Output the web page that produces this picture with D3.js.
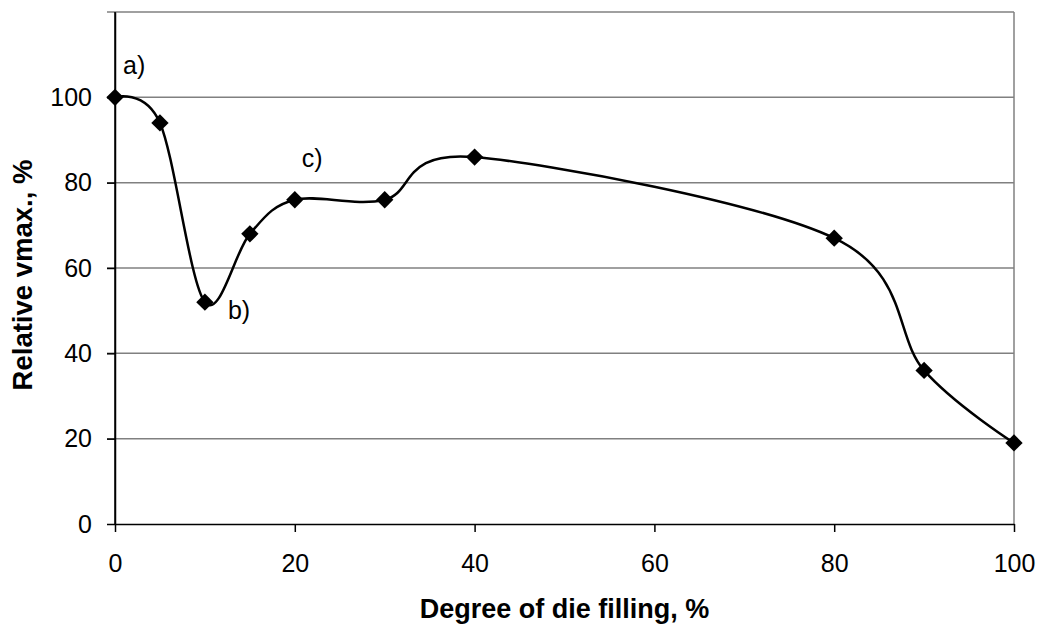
<!DOCTYPE html>
<html>
<head>
<meta charset="utf-8">
<script src="https://cdn.jsdelivr.net/npm/d3@7"></script>
<style>
  body { margin: 0; background: #fff; }
  svg { display: block; font-family: "Liberation Sans", Arial, sans-serif; }
</style>
</head>
<body>
<svg id="chart"></svg>
<script>
// data
const filling = [0, 5, 10, 15, 20, 30, 40, 80, 90, 100];
const relVmax = [100, 94, 52, 68, 76, 76, 86, 67, 36, 19];
const xTicks = [0, 20, 40, 60, 80, 100];
const yTicks = [0, 20, 40, 60, 80, 100, 120];
const yLabels = [0, 20, 40, 60, 80, 100];
const notes = [
  { x: 0, y: 100, text: "a)", dx: 8, dy: -23 },
  { x: 10, y: 52, text: "b)", dx: 23, dy: 17 },
  { x: 20, y: 76, text: "c)", dx: 7, dy: -33 }
];

const width = 1042;
const height = 628;
const marginLeft = 115;
const marginRight = 28;
const marginTop = 12;
const marginBottom = 104;

const svg = d3.select("#chart")
  .attr("width", width)
  .attr("height", height);

const x = d3.scaleLinear()
  .domain([0, 100])
  .range([marginLeft, width - marginRight]);

const y = d3.scaleLinear()
  .domain([0, 120])
  .range([height - marginBottom, marginTop]);

// gridlines (with the little outer ticks on the left)
svg.append("g")
  .selectAll("line")
  .data(yTicks.filter(d => d > 0))
  .join("line")
  .attr("x1", marginLeft - 8)
  .attr("x2", x(100))
  .attr("y1", d => y(d))
  .attr("y2", d => y(d))
  .attr("stroke", "#808080")
  .attr("stroke-width", 1.5);

// right border
svg.append("line")
  .attr("x1", x(100)).attr("x2", x(100))
  .attr("y1", y(120)).attr("y2", y(0))
  .attr("stroke", "#808080")
  .attr("stroke-width", 1.5);

// x axis
const xAxis = svg.append("g")
  .attr("transform", `translate(0,${y(0)})`)
  .call(d3.axisBottom(x).tickValues(xTicks).tickSize(8).tickPadding(22).tickSizeOuter(0));
xAxis.attr("font-family", null);
xAxis.select(".domain").attr("stroke", "#000").attr("stroke-width", 1.5);
xAxis.selectAll(".tick line").attr("stroke", "#000").attr("stroke-width", 1.5);
xAxis.selectAll(".tick text").attr("font-size", 25).attr("fill", "#000");

// y axis
const yAxis = svg.append("g")
  .attr("transform", `translate(${marginLeft},0)`)
  .call(d3.axisLeft(y).tickValues(yLabels).tickSize(8).tickPadding(15).tickSizeOuter(0));
yAxis.attr("font-family", null);
yAxis.select(".domain").attr("stroke", "#000").attr("stroke-width", 1.5);
yAxis.selectAll(".tick line").attr("stroke", "#000").attr("stroke-width", 1.5);
yAxis.selectAll(".tick text").attr("font-size", 25).attr("fill", "#000");
// axis line up to the top
yAxis.append("line")
  .attr("x1", 0).attr("x2", 0)
  .attr("y1", y(120)).attr("y2", y(0))
  .attr("stroke", "#000").attr("stroke-width", 1.5);

// axis titles
svg.append("text")
  .attr("x", (x(0) + x(100)) / 2)
  .attr("y", 618)
  .attr("text-anchor", "middle")
  .attr("font-size", 27)
  .attr("font-weight", "bold")
  .text("Degree of die filling, %");

svg.append("text")
  .attr("transform", `translate(32,275) rotate(-90)`)
  .attr("text-anchor", "middle")
  .attr("font-size", 27.5)
  .attr("font-weight", "bold")
  .text("Relative vmax., %");

// smoothed line
const line = d3.line()
  .x((d, i) => x(filling[i]))
  .y(d => y(d))
  .curve(d3.curveCatmullRom.alpha(0));

svg.append("path")
  .datum(relVmax)
  .attr("fill", "none")
  .attr("stroke", "#000")
  .attr("stroke-width", 2.5)
  .attr("d", line);

// diamond markers
const diamond = d3.symbol().type(d3.symbolSquare).size(150);
svg.append("g")
  .selectAll("path")
  .data(relVmax)
  .join("path")
  .attr("d", diamond)
  .attr("transform", (d, i) => `translate(${x(filling[i])},${y(d)}) rotate(45)`)
  .attr("fill", "#000");

// annotations
svg.append("g")
  .selectAll("text")
  .data(notes)
  .join("text")
  .attr("x", d => x(d.x) + d.dx)
  .attr("y", d => y(d.y) + d.dy)
  .attr("font-size", 25)
  .text(d => d.text);
</script>
</body>
</html>
